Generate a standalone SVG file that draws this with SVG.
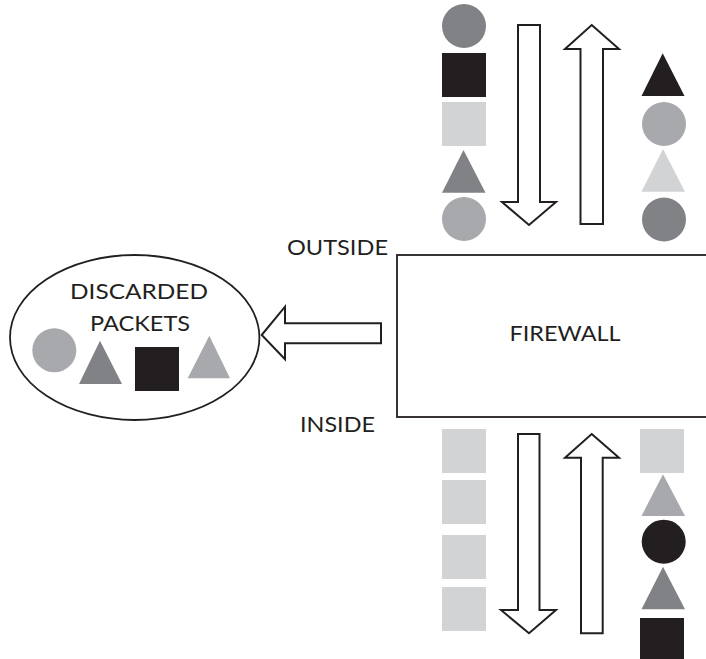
<svg xmlns="http://www.w3.org/2000/svg" width="706" height="659" viewBox="0 0 706 659">
<style>
.lbl{font-family:Lato,"Liberation Sans",sans-serif;font-size:22px;fill:#231f20}
.ol{fill:#fff;stroke:#231f20;stroke-width:2;stroke-linejoin:miter}
.blk{fill:#231f20}.dg{fill:#808285}.mg{fill:#a7a9ac}.lg{fill:#d1d3d4}
</style>
<rect width="706" height="659" fill="#fff"/>
<g id="firewall">
<rect x="397" y="255" width="320" height="162" fill="#fff" stroke="#231f20" stroke-width="1.8"/>
<text class="lbl" x="565" y="341" text-anchor="middle" textLength="111" lengthAdjust="spacingAndGlyphs">FIREWALL</text>
</g>
<g id="labels">
<text class="lbl" x="287" y="255" textLength="101" lengthAdjust="spacingAndGlyphs">OUTSIDE</text>
<text class="lbl" x="300" y="431.5" textLength="75" lengthAdjust="spacingAndGlyphs">INSIDE</text>
</g>
<g id="discarded">
<ellipse cx="134.7" cy="337.5" rx="124.7" ry="82.5" fill="#fff" stroke="#231f20" stroke-width="1.8"/>
<text class="lbl" x="70" y="298.5" textLength="138" lengthAdjust="spacingAndGlyphs">DISCARDED</text>
<text class="lbl" x="90" y="330.5" textLength="100" lengthAdjust="spacingAndGlyphs">PACKETS</text>
<circle class="mg" cx="54.3" cy="350.3" r="22"/>
<polygon class="dg" points="100,340.7 122,384 79,384"/>
<rect class="blk" x="135" y="347" width="44" height="44"/>
<polygon class="mg" points="209.3,335.7 230,378.3 187.7,378.3"/>
</g>
<g id="connectors">
<polygon class="ol" points="261.7,335 285,306.7 285,323.3 381,323.3 381,343.3 285,343.3 285,359.3"/>
<polygon class="ol" points="518,25 540,25 540,202 556,202 529,225 502,202 518,202"/>
<polygon class="ol" points="591.7,25 619,49 603,49 603,224 580.5,224 580.5,49 565,49"/>
<polygon class="ol" points="518,434 539.5,434 539.5,610 556,610 529,633.3 501,610 518,610"/>
<polygon class="ol" points="591.7,434 619,457.7 602.7,457.7 602.7,633.3 581,633.3 581,457.7 565,457.7"/>
</g>
<g id="outside-left">
<circle class="dg" cx="464" cy="26" r="22"/>
<rect class="blk" x="442" y="53" width="44" height="44"/>
<rect class="lg" x="442" y="102" width="44" height="44"/>
<polygon class="dg" points="463.5,150 485.5,192.7 442,192.7"/>
<circle class="mg" cx="464" cy="219" r="22"/>
</g>
<g id="outside-right">
<polygon class="blk" points="662.7,53.3 684.5,96 641.5,96"/>
<circle class="mg" cx="664" cy="124" r="22"/>
<polygon class="lg" points="663,149 685,191.7 641.5,191.7"/>
<circle class="dg" cx="664" cy="219.5" r="22"/>
</g>
<g id="inside-left">
<rect class="lg" x="442" y="429" width="44" height="44"/>
<rect class="lg" x="442" y="480" width="44" height="44"/>
<rect class="lg" x="442" y="535" width="44" height="44"/>
<rect class="lg" x="442" y="587" width="44" height="44"/>
</g>
<g id="inside-right">
<rect class="lg" x="640" y="429" width="44" height="44"/>
<polygon class="mg" points="663,474.3 685,516 641.5,516"/>
<circle class="blk" cx="663.7" cy="541.7" r="22"/>
<polygon class="dg" points="663,566.7 685,609.3 641.5,609.3"/>
<rect class="blk" x="640" y="618" width="44" height="44"/>
</g>
</svg>
